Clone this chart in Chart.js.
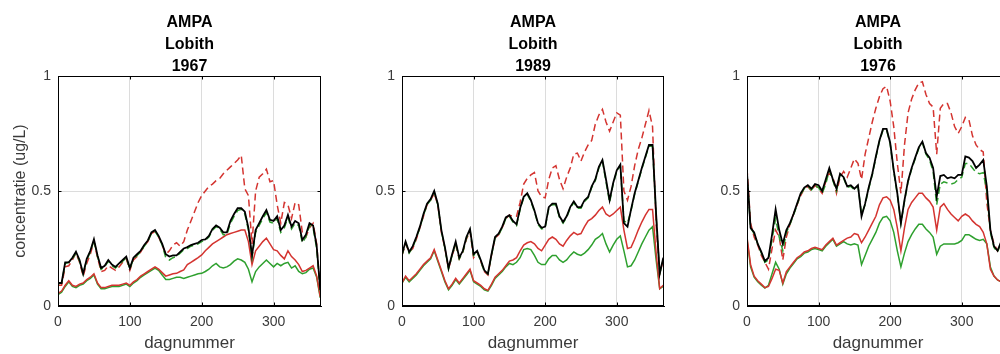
<!DOCTYPE html>
<html>
<head>
<meta charset="utf-8">
<script src="https://cdn.jsdelivr.net/npm/chart.js@4.4.1/dist/chart.umd.min.js"></script>
<style>
  html, body { margin: 0; padding: 0; background: #fff; overflow: hidden; }
  #wrap { position: relative; width: 1000px; height: 354px; overflow: hidden; }
  canvas { position: absolute; top: 0; }
</style>
</head>
<body>
<div id="wrap">
  <canvas id="c1967" width="341" height="354" style="left:0px"></canvas>
  <canvas id="c1989" width="322" height="354" style="left:362px"></canvas>
  <canvas id="c1976" width="322" height="354" style="left:707px"></canvas>
</div>
<script>
// day numbers shared by every series (5-day steps)
const days = [0, 5, 10, 15, 20, 25, 30, 35, 40, 45,
  50, 55, 60, 65, 70, 75, 80, 85, 90, 95,
  100, 105, 110, 115, 120, 125, 130, 135, 140, 145,
  150, 155, 160, 165, 170, 175, 180, 185, 190, 195,
  200, 205, 210, 215, 220, 225, 230, 235, 240, 245,
  250, 255, 260, 265, 270, 275, 280, 285, 290, 295,
  300, 305, 310, 315, 320, 325, 330, 335, 340, 345,
  350, 355, 360, 365];

const xTicks = [0, 100, 200, 300];
const yTicks = [0, 0.5, 1];
const yTickLabels = ['0', '0.5', '1'];
const titleLines = ['AMPA', 'Lobith'];
const xTitle = 'dagnummer';
const yTitle = 'concentratie (ug/L)';

// ---- 1967 ----
const total1967 = [0.10, 0.10, 0.19, 0.19, 0.21, 0.236, 0.20, 0.14, 0.205, 0.24,
  0.29, 0.22, 0.165, 0.175, 0.20, 0.18, 0.17, 0.185, 0.20, 0.215,
  0.165, 0.21, 0.225, 0.24, 0.265, 0.285, 0.32, 0.33, 0.305, 0.27,
  0.225, 0.215, 0.22, 0.22, 0.235, 0.25, 0.256, 0.265, 0.27, 0.275,
  0.287, 0.29, 0.305, 0.335, 0.35, 0.34, 0.32, 0.32, 0.37, 0.40,
  0.425, 0.425, 0.41, 0.34, 0.22, 0.33, 0.36, 0.39, 0.417, 0.375,
  0.37, 0.39, 0.33, 0.35, 0.396, 0.345, 0.37, 0.36, 0.287, 0.31,
  0.36, 0.35, 0.26, 0.07];
const totalAlt1967 = [0.095, 0.10, 0.185, 0.19, 0.205, 0.23, 0.195, 0.14, 0.20, 0.235,
  0.285, 0.215, 0.16, 0.17, 0.195, 0.175, 0.165, 0.18, 0.195, 0.21,
  0.16, 0.205, 0.22, 0.235, 0.26, 0.28, 0.315, 0.325, 0.30, 0.265,
  0.21, 0.20, 0.21, 0.215, 0.23, 0.245, 0.25, 0.26, 0.265, 0.27,
  0.28, 0.285, 0.30, 0.33, 0.345, 0.335, 0.31, 0.31, 0.36, 0.39,
  0.415, 0.42, 0.40, 0.33, 0.21, 0.32, 0.35, 0.38, 0.405, 0.365,
  0.36, 0.38, 0.32, 0.34, 0.385, 0.335, 0.36, 0.35, 0.275, 0.30,
  0.35, 0.34, 0.25, 0.065];
const upper1967 = [0.09, 0.09, 0.17, 0.175, 0.20, 0.23, 0.19, 0.13, 0.185, 0.225,
  0.28, 0.21, 0.15, 0.155, 0.175, 0.165, 0.155, 0.17, 0.19, 0.205,
  0.155, 0.20, 0.215, 0.235, 0.26, 0.28, 0.315, 0.325, 0.30, 0.265,
  0.225, 0.24, 0.265, 0.275, 0.26, 0.28, 0.33, 0.37, 0.41, 0.45,
  0.48, 0.50, 0.52, 0.53, 0.545, 0.555, 0.575, 0.59, 0.605, 0.62,
  0.635, 0.655, 0.51, 0.48, 0.27, 0.50, 0.56, 0.575, 0.595, 0.54,
  0.545, 0.44, 0.36, 0.45, 0.44, 0.38, 0.45, 0.44, 0.32, 0.30,
  0.34, 0.36, 0.27, 0.06];
const red1967 = [0.055, 0.065, 0.09, 0.11, 0.09, 0.085, 0.095, 0.10, 0.115, 0.125,
  0.14, 0.10, 0.08, 0.08, 0.085, 0.09, 0.09, 0.09, 0.095, 0.10,
  0.09, 0.105, 0.115, 0.13, 0.14, 0.15, 0.16, 0.17, 0.16, 0.145,
  0.13, 0.135, 0.14, 0.142, 0.15, 0.157, 0.18, 0.19, 0.20, 0.21,
  0.222, 0.24, 0.255, 0.27, 0.28, 0.29, 0.30, 0.31, 0.315, 0.32,
  0.325, 0.33, 0.33, 0.28, 0.18, 0.24, 0.26, 0.28, 0.295, 0.27,
  0.245, 0.24, 0.22, 0.205, 0.24, 0.215, 0.20, 0.18, 0.15, 0.155,
  0.165, 0.175, 0.13, 0.04];
const green1967 = [0.05, 0.06, 0.085, 0.105, 0.085, 0.08, 0.09, 0.095, 0.11, 0.12,
  0.135, 0.095, 0.075, 0.075, 0.08, 0.085, 0.085, 0.085, 0.09, 0.095,
  0.085, 0.10, 0.11, 0.125, 0.135, 0.145, 0.155, 0.165, 0.155, 0.135,
  0.115, 0.115, 0.12, 0.125, 0.125, 0.12, 0.125, 0.13, 0.135, 0.14,
  0.142, 0.15, 0.16, 0.175, 0.185, 0.17, 0.165, 0.17, 0.18, 0.195,
  0.205, 0.20, 0.19, 0.16, 0.105, 0.15, 0.17, 0.185, 0.20, 0.185,
  0.17, 0.185, 0.175, 0.185, 0.19, 0.165, 0.175, 0.15, 0.14, 0.145,
  0.16, 0.165, 0.125, 0.035];

// ---- 1989 ----
const total1989 = [0.225, 0.28, 0.235, 0.26, 0.30, 0.345, 0.40, 0.445, 0.465, 0.50,
  0.445, 0.33, 0.255, 0.165, 0.225, 0.28, 0.21, 0.24, 0.30, 0.335,
  0.225, 0.24, 0.20, 0.155, 0.14, 0.225, 0.30, 0.315, 0.345, 0.385,
  0.395, 0.37, 0.355, 0.425, 0.475, 0.49, 0.46, 0.415, 0.36, 0.34,
  0.345, 0.43, 0.445, 0.445, 0.39, 0.365, 0.39, 0.43, 0.455, 0.43,
  0.43, 0.46, 0.474, 0.52, 0.55, 0.605, 0.635, 0.55, 0.46, 0.535,
  0.59, 0.615, 0.36, 0.345, 0.42, 0.49, 0.545, 0.60, 0.65, 0.70,
  0.70, 0.40, 0.14, 0.21];
const totalAlt1989 = [0.22, 0.275, 0.23, 0.255, 0.295, 0.34, 0.395, 0.44, 0.46, 0.495,
  0.44, 0.325, 0.25, 0.16, 0.22, 0.275, 0.205, 0.235, 0.295, 0.33,
  0.22, 0.235, 0.195, 0.15, 0.14, 0.22, 0.295, 0.31, 0.34, 0.38,
  0.39, 0.365, 0.35, 0.42, 0.47, 0.485, 0.455, 0.41, 0.355, 0.335,
  0.34, 0.425, 0.44, 0.44, 0.385, 0.36, 0.385, 0.425, 0.45, 0.425,
  0.425, 0.455, 0.47, 0.515, 0.545, 0.60, 0.63, 0.54, 0.45, 0.53,
  0.585, 0.61, 0.37, 0.36, 0.415, 0.485, 0.54, 0.595, 0.645, 0.695,
  0.695, 0.39, 0.14, 0.20];
const upper1989 = [0.22, 0.27, 0.235, 0.25, 0.29, 0.34, 0.39, 0.44, 0.46, 0.49,
  0.44, 0.32, 0.25, 0.16, 0.22, 0.265, 0.205, 0.235, 0.29, 0.325,
  0.21, 0.235, 0.195, 0.15, 0.135, 0.22, 0.295, 0.31, 0.34, 0.38,
  0.395, 0.39, 0.39, 0.45, 0.53, 0.555, 0.57, 0.58, 0.50, 0.475,
  0.47, 0.55, 0.60, 0.61, 0.55, 0.51, 0.56, 0.60, 0.66, 0.665,
  0.63, 0.67, 0.70, 0.72, 0.79, 0.83, 0.855, 0.80, 0.76, 0.80,
  0.84, 0.83, 0.50, 0.46, 0.52, 0.61, 0.68, 0.73, 0.79, 0.85,
  0.78, 0.35, 0.14, 0.20];
const red1989 = [0.10, 0.13, 0.11, 0.125, 0.14, 0.16, 0.18, 0.195, 0.21, 0.245,
  0.20, 0.155, 0.11, 0.075, 0.095, 0.12, 0.10, 0.12, 0.14, 0.16,
  0.11, 0.10, 0.09, 0.075, 0.068, 0.095, 0.125, 0.14, 0.155, 0.175,
  0.195, 0.20, 0.21, 0.24, 0.265, 0.275, 0.28, 0.27, 0.25, 0.24,
  0.265, 0.29, 0.30, 0.29, 0.27, 0.26, 0.285, 0.305, 0.32, 0.31,
  0.315, 0.345, 0.37, 0.38, 0.395, 0.415, 0.43, 0.40, 0.39, 0.40,
  0.415, 0.43, 0.33, 0.25, 0.255, 0.29, 0.33, 0.365, 0.395, 0.42,
  0.42, 0.23, 0.075, 0.09];
const green1989 = [0.10, 0.125, 0.105, 0.12, 0.135, 0.155, 0.175, 0.19, 0.205, 0.24,
  0.195, 0.15, 0.105, 0.07, 0.09, 0.115, 0.095, 0.115, 0.135, 0.155,
  0.105, 0.095, 0.085, 0.07, 0.065, 0.09, 0.12, 0.135, 0.15, 0.17,
  0.185, 0.18, 0.19, 0.21, 0.245, 0.25, 0.245, 0.22, 0.19, 0.18,
  0.18, 0.205, 0.22, 0.22, 0.20, 0.19, 0.20, 0.22, 0.235, 0.225,
  0.22, 0.23, 0.245, 0.265, 0.29, 0.30, 0.315, 0.27, 0.235, 0.265,
  0.29, 0.305, 0.24, 0.17, 0.175, 0.20, 0.235, 0.27, 0.30, 0.33,
  0.345, 0.20, 0.075, 0.085];

// ---- 1976 ----
const total1976 = [0.58, 0.34, 0.32, 0.27, 0.235, 0.195, 0.21, 0.31, 0.42, 0.33,
  0.27, 0.33, 0.36, 0.40, 0.445, 0.49, 0.515, 0.525, 0.51, 0.53,
  0.525, 0.50, 0.55, 0.60, 0.55, 0.51, 0.575, 0.56, 0.52, 0.525,
  0.51, 0.525, 0.39, 0.445, 0.515, 0.575, 0.65, 0.72, 0.77, 0.77,
  0.71, 0.59, 0.49, 0.36, 0.46, 0.545, 0.60, 0.645, 0.69, 0.715,
  0.665, 0.645, 0.60, 0.475, 0.565, 0.57, 0.555, 0.56, 0.555, 0.57,
  0.57, 0.65, 0.645, 0.63, 0.60, 0.615, 0.635, 0.52, 0.33, 0.26,
  0.24, 0.28, 0.25, 0.30];
const totalAlt1976 = [0.575, 0.34, 0.315, 0.27, 0.23, 0.19, 0.20, 0.29, 0.38, 0.30,
  0.24, 0.32, 0.355, 0.395, 0.44, 0.485, 0.51, 0.52, 0.505, 0.525,
  0.515, 0.49, 0.53, 0.59, 0.545, 0.50, 0.57, 0.555, 0.515, 0.52,
  0.505, 0.52, 0.40, 0.44, 0.51, 0.57, 0.645, 0.715, 0.765, 0.765,
  0.705, 0.585, 0.485, 0.36, 0.455, 0.54, 0.595, 0.64, 0.685, 0.71,
  0.66, 0.635, 0.585, 0.44, 0.53, 0.54, 0.535, 0.53, 0.535, 0.55,
  0.56, 0.62, 0.62, 0.60, 0.58, 0.575, 0.58, 0.50, 0.32, 0.255,
  0.235, 0.275, 0.245, 0.295];
const upper1976 = [0.60, 0.36, 0.30, 0.265, 0.22, 0.19, 0.16, 0.25, 0.33, 0.30,
  0.20, 0.30, 0.355, 0.40, 0.44, 0.48, 0.51, 0.52, 0.50, 0.525,
  0.51, 0.49, 0.54, 0.58, 0.56, 0.49, 0.56, 0.585, 0.56, 0.60,
  0.64, 0.62, 0.55, 0.66, 0.73, 0.80, 0.86, 0.91, 0.945, 0.955,
  0.89, 0.78, 0.62, 0.49, 0.70, 0.84, 0.90, 0.94, 0.97, 0.975,
  0.92, 0.88, 0.865, 0.66, 0.86, 0.88, 0.88, 0.84, 0.78, 0.75,
  0.78, 0.82, 0.81, 0.74, 0.70, 0.68, 0.67, 0.45, 0.33, 0.27,
  0.24, 0.27, 0.25, 0.29];
const red1976 = [0.30, 0.18, 0.13, 0.11, 0.095, 0.08, 0.085, 0.12, 0.16, 0.155,
  0.10, 0.15, 0.17, 0.19, 0.21, 0.22, 0.235, 0.24, 0.25, 0.255,
  0.25, 0.245, 0.265, 0.28, 0.295, 0.265, 0.275, 0.285, 0.295, 0.30,
  0.315, 0.31, 0.275, 0.30, 0.33, 0.36, 0.39, 0.44, 0.47, 0.475,
  0.46, 0.42, 0.34, 0.24, 0.34, 0.42, 0.45, 0.47, 0.49, 0.49,
  0.47, 0.455, 0.43, 0.33, 0.43, 0.445, 0.42, 0.40, 0.385, 0.37,
  0.39, 0.40, 0.39, 0.37, 0.355, 0.345, 0.32, 0.27, 0.16, 0.13,
  0.113, 0.105, 0.10, 0.12];
const green1976 = [0.29, 0.17, 0.125, 0.105, 0.09, 0.078, 0.09, 0.14, 0.19, 0.16,
  0.095, 0.14, 0.165, 0.185, 0.205, 0.215, 0.23, 0.235, 0.245, 0.25,
  0.245, 0.24, 0.26, 0.275, 0.29, 0.26, 0.27, 0.28, 0.27, 0.265,
  0.27, 0.265, 0.18, 0.22, 0.26, 0.29, 0.32, 0.36, 0.385, 0.39,
  0.37, 0.32, 0.24, 0.17, 0.23, 0.28, 0.31, 0.335, 0.355, 0.355,
  0.335, 0.32, 0.30, 0.225, 0.26, 0.27, 0.27, 0.27, 0.27, 0.275,
  0.285, 0.31, 0.31, 0.30, 0.29, 0.285, 0.29, 0.27, 0.17, 0.13,
  0.113, 0.105, 0.10, 0.12];

const FONT = "'Liberation Sans', Arial, Helvetica, sans-serif";
const RED = 'rgb(212, 52, 48)';
const GREEN = 'rgb(46, 160, 46)';

function toPoints(values) {
  return days.map((d, i) => ({ x: d, y: values[i] }));
}

// matlab-like box, inward ticks and 3-line title
const boxPlugin = {
  id: 'box',
  afterDraw(chart, args, opts) {
    const a = chart.chartArea;
    const ctx = chart.ctx;
    const xs = chart.scales.x, ys = chart.scales.y;
    const l = Math.round(a.left) + 0.5, t = Math.round(a.top) + 0.5;
    const r = Math.round(a.right) - 0.5, b = Math.round(a.bottom) - 0.5;
    ctx.save();
    ctx.strokeStyle = '#000';
    ctx.lineWidth = 1;
    ctx.strokeRect(l, t, r - l, b - t);
    ctx.beginPath();
    xTicks.forEach(v => {
      const px = Math.round(xs.getPixelForValue(v)) + 0.5;
      ctx.moveTo(px, b); ctx.lineTo(px, b - 3);
      ctx.moveTo(px, t); ctx.lineTo(px, t + 3);
    });
    yTicks.forEach(v => {
      const py = Math.round(ys.getPixelForValue(v)) + 0.5;
      ctx.moveTo(l, py); ctx.lineTo(l + 3, py);
      ctx.moveTo(r, py); ctx.lineTo(r - 3, py);
    });
    ctx.stroke();

    ctx.fillStyle = '#000';
    ctx.font = 'bold 16px ' + FONT;
    ctx.textAlign = 'center';
    ctx.textBaseline = 'middle';
    const cx = (a.left + a.right) / 2;
    opts.lines.forEach((txt, i) => ctx.fillText(txt, cx, 22.5 + i * 21.8));
    ctx.restore();
  }
};

function makePanel(id, year, series, yAxisWidth, showYTitle) {
  const [total, totalAlt, upper, red, green] = series;
  new Chart(document.getElementById(id), {
    type: 'line',
    data: {
      datasets: [
        { data: toPoints(total), borderColor: '#000', borderWidth: 1.8 },
        { data: toPoints(totalAlt), borderColor: GREEN, borderWidth: 1.5, borderDash: [7, 4] },
        { data: toPoints(upper), borderColor: RED, borderWidth: 1.5, borderDash: [7, 4] },
        { data: toPoints(red), borderColor: RED, borderWidth: 1.5 },
        { data: toPoints(green), borderColor: GREEN, borderWidth: 1.5 }
      ]
    },
    options: {
      responsive: false,
      animation: false,
      devicePixelRatio: 1,
      elements: { point: { radius: 0 }, line: { tension: 0, fill: false } },
      layout: { padding: { top: 76, right: 20, bottom: 0, left: 0 } },
      plugins: {
        legend: { display: false },
        tooltip: { enabled: false },
        box: { lines: titleLines.concat([year]) }
      },
      scales: {
        x: {
          type: 'linear',
          min: 0,
          max: 366,
          afterBuildTicks: s => { s.ticks = xTicks.map(v => ({ value: v })); },
          afterFit: s => { s.height = 48; },
          ticks: { color: '#3a3a3a', padding: 8, font: { family: FONT, size: 14 } },
          grid: { color: '#dcdcdc', drawTicks: false },
          border: { display: true, color: '#000' },
          title: {
            display: true,
            text: xTitle,
            color: '#3a3a3a',
            font: { family: FONT, size: 17 },
            padding: { top: 0, bottom: 0 }
          }
        },
        y: {
          min: 0,
          max: 1,
          afterBuildTicks: s => { s.ticks = yTicks.map(v => ({ value: v })); },
          afterFit: s => { s.width = yAxisWidth; },
          ticks: {
            color: '#3a3a3a',
            padding: 7,
            font: { family: FONT, size: 14 },
            callback: v => yTickLabels[yTicks.indexOf(v)]
          },
          grid: { color: '#dcdcdc', drawTicks: false },
          border: { display: true, color: '#000' },
          title: {
            display: showYTitle,
            text: yTitle,
            color: '#3a3a3a',
            font: { family: FONT, size: 16 },
            padding: { top: 11, bottom: 0 }
          }
        }
      }
    },
    plugins: [boxPlugin]
  });
}

makePanel('c1967', '1967', [total1967, totalAlt1967, upper1967, red1967, green1967], 58, true);
makePanel('c1989', '1989', [total1989, totalAlt1989, upper1989, red1989, green1989], 40, false);
makePanel('c1976', '1976', [total1976, totalAlt1976, upper1976, red1976, green1976], 40, false);
</script>
</body>
</html>
